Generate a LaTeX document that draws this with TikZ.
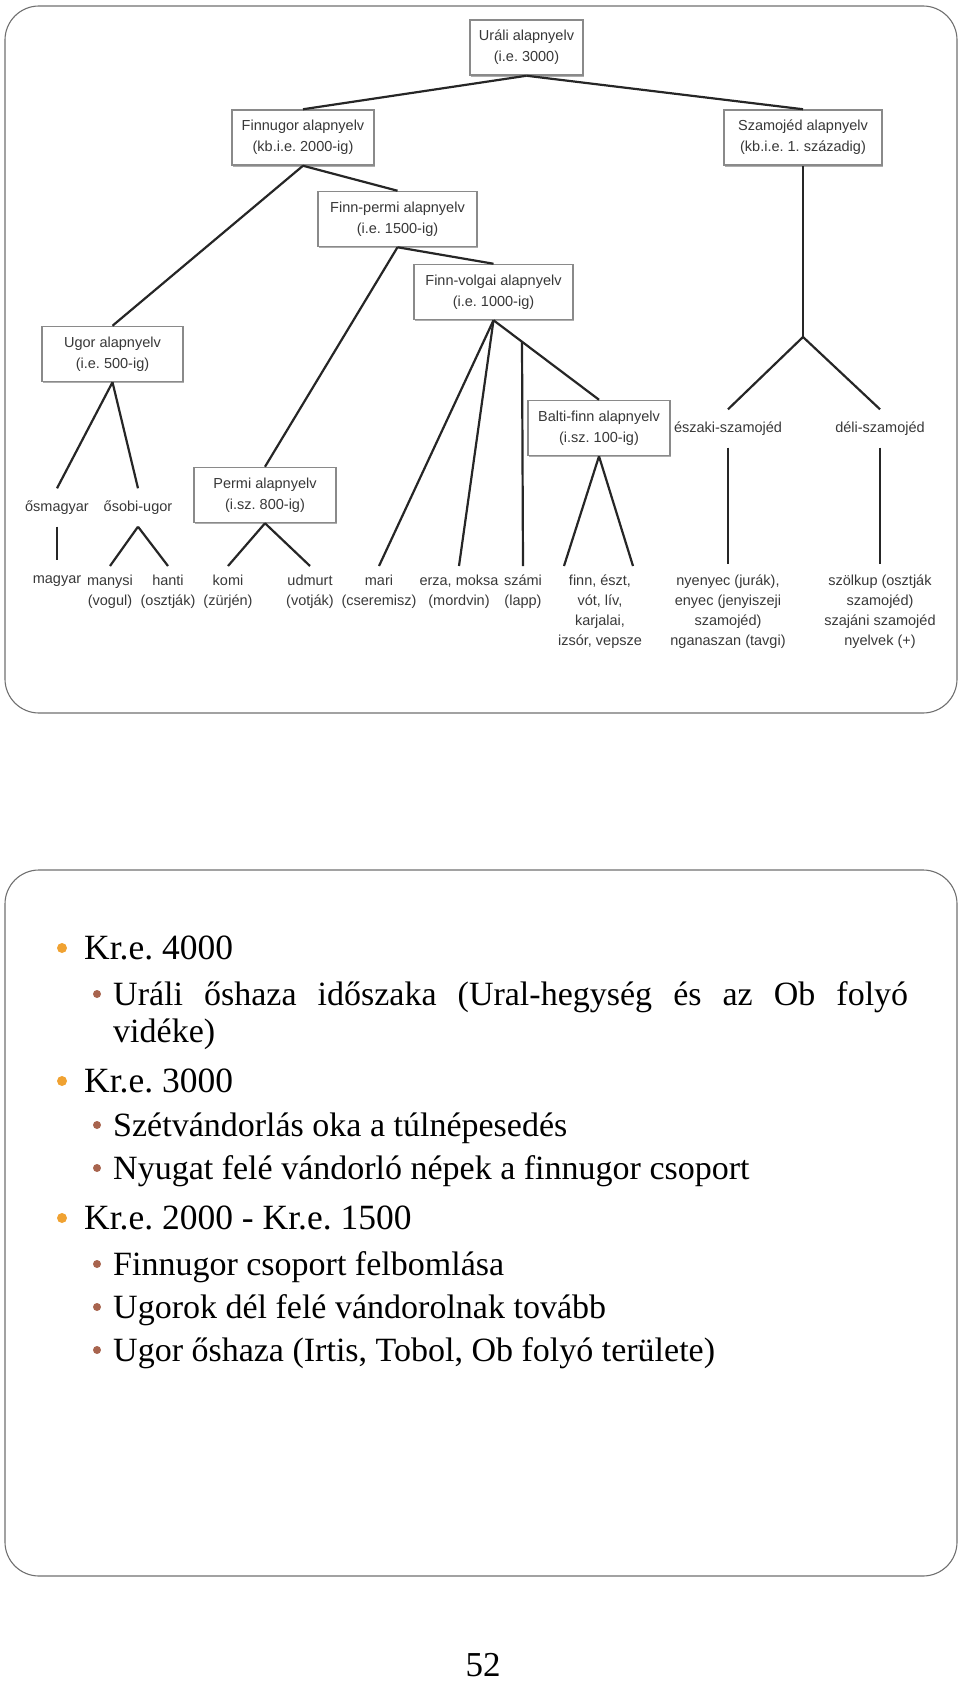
\documentclass[tikz,border=0pt]{standalone}
\usepackage{fontspec}
\setmainfont{Liberation Serif}
\newfontfamily\treefont{Liberation Sans}
\usepackage{xcolor}
\usepackage{tikz}
\usetikzlibrary{shadows}
\definecolor{treegray}{HTML}{383838}
\definecolor{boxgray}{HTML}{8A8A8A}
\definecolor{framegray}{HTML}{707070}
\definecolor{dotorange}{HTML}{F0A232}
\definecolor{dotbrown}{HTML}{A8644E}
\frenchspacing

\begin{document}
\begin{tikzpicture}[
    x=1pt, y=-1pt,
    langbox/.style={rectangle, draw=boxgray, line width=1.5pt, fill=white, minimum width=#1, minimum height=55pt, inner sep=0pt, align=center, text=treegray, font=\treefont\fontsize{14.5}{21}\selectfont, drop shadow={shadow xshift=0.8pt, shadow yshift=-1.6pt, fill=black!45, opacity=0.7}},
    langbox/.default=142pt,
    midlabel/.style={minimum height=38pt, inner sep=0pt, text=treegray, font=\treefont\fontsize{14.5}{21}\selectfont},
    leaf/.style={anchor=north, inner xsep=0pt, inner ysep=9pt, align=center, text=treegray, font=\treefont\fontsize{14.5}{19.8}\selectfont},
    branch/.style={line width=2.2pt, black!85},
    frame/.style={draw=framegray, line width=1.1pt, rounded corners=34pt},
    dotone/.style={circle, fill=dotorange, minimum size=10pt, inner sep=0pt},
    dottwo/.style={circle, fill=dotbrown, minimum size=8pt, inner sep=0pt},
    levelone/.style={anchor=base west, inner sep=0pt, font=\fontsize{35.5}{40}\selectfont},
    leveltwo/.style={anchor=base west, inner sep=0pt, font=\fontsize{34}{40}\selectfont}
]
\useasboundingbox (0,0) rectangle (960,1683);

\draw[frame] (5,6) rectangle (957,713);
\draw[frame] (5,870) rectangle (957,1576);

\node[langbox=113pt] (urali) at (526.5,47.5) {Uráli alapnyelv\\(i.e. 3000)};
\node[langbox] (finnugor) at (303,137.5) {Finnugor alapnyelv\\(kb.i.e. 2000-ig)};
\node[langbox=158pt] (szamojed) at (803,137.5) {Szamojéd alapnyelv\\(kb.i.e. 1. századig)};
\node[langbox=159pt] (finnpermi) at (397.5,219) {Finn-permi alapnyelv\\(i.e. 1500-ig)};
\node[langbox=159pt] (finnvolgai) at (493.5,292) {Finn-volgai alapnyelv\\(i.e. 1000-ig)};
\node[langbox=141pt] (ugor) at (112.5,354) {Ugor alapnyelv\\(i.e. 500-ig)};
\node[langbox] (permi) at (265,495) {Permi alapnyelv\\(i.sz. 800-ig)};
\node[langbox] (baltifinn) at (599,428) {Balti-finn alapnyelv\\(i.sz. 100-ig)};

\node[midlabel] (osmagyar) at (57,507.5) {ősmagyar};
\node[midlabel] (osobiugor) at (138,507.5) {ősobi-ugor};
\node[midlabel] (eszaki) at (728,428.5) {északi-szamojéd};
\node[midlabel] (deli) at (880,428.5) {déli-szamojéd};

\node[leaf] (magyar) at (57,566) {magyar};
\node[leaf] (manysi) at (110,566) {manysi\\(vogul)};
\node[leaf] (hanti) at (168,566) {hanti\\(osztják)};
\node[leaf] (komi) at (228,566) {komi\\(zürjén)};
\node[leaf] (udmurt) at (310,566) {udmurt\\(votják)};
\node[leaf] (mari) at (379,566) {mari\\(cseremisz)};
\node[leaf] (erza) at (459,566) {erza, moksa\\(mordvin)};
\node[leaf] (szami) at (523,566) {számi\\(lapp)};
\node[leaf] (baltinyelvek) at (600,566) {finn, észt,\\vót, lív,\\karjalai,\\izsór, vepsze};
\node[leaf] (eszakinyelvek) at (728,566) {nyenyec (jurák),\\enyec (jenyiszeji\\szamojéd)\\nganaszan (tavgi)};
\node[leaf] (delinyelvek) at (880,566) {szölkup (osztják\\szamojéd)\\szajáni szamojéd\\nyelvek (+)};

\coordinate (szamojedsplit) at (803,337);
\coordinate (szamisplit) at (522,342);

\draw[branch] (urali.south) -- (finnugor.north);
\draw[branch] (urali.south) -- (szamojed.north);
\draw[branch] (finnugor.south) -- (ugor.north);
\draw[branch] (finnugor.south) -- (finnpermi.north);
\draw[branch] (finnpermi.south) -- (permi.north);
\draw[branch] (finnpermi.south) -- (finnvolgai.north);
\draw[branch] (ugor.south) -- (osmagyar.north);
\draw[branch] (ugor.south) -- (osobiugor.north);
\draw[branch, shorten >=6pt] (osmagyar.south) -- (magyar.north);
\draw[branch] (osobiugor.south) -- (manysi.north);
\draw[branch] (osobiugor.south) -- (hanti.north);
\draw[branch] (permi.south) -- (komi.north);
\draw[branch] (permi.south) -- (udmurt.north);
\draw[branch] (finnvolgai.south) -- (mari.north);
\draw[branch] (finnvolgai.south) -- (erza.north);
\draw[branch] (finnvolgai.south) -- (baltifinn.north);
\draw[branch] (szamisplit) -- (szami.north);
\draw[branch] (baltifinn.south) -- ([xshift=-36pt]baltinyelvek.north);
\draw[branch] (baltifinn.south) -- ([xshift=33pt]baltinyelvek.north);
\draw[branch] (szamojed.south) -- (szamojedsplit);
\draw[branch] (szamojedsplit) -- (eszaki.north);
\draw[branch] (szamojedsplit) -- (deli.north);
\draw[branch, shorten >=2pt] (eszaki.south) -- (eszakinyelvek.north);
\draw[branch, shorten >=2pt] (deli.south) -- (delinyelvek.north);

\node[dotone] (dot4000) at (62,948) {};
\node[levelone] (kr4000) at (84,959) {Kr.e. 4000};
\node[dottwo] (dotos) at (97,994) {};
\node[leveltwo] (osidoszak) at (113,1005) {\makebox[795pt][s]{Uráli őshaza időszaka (Ural-hegység és az Ob folyó}};
\node[leveltwo] (videke) at (113,1042) {vidéke)};
\node[dotone] (dot3000) at (62,1081) {};
\node[levelone] (kr3000) at (84,1092) {Kr.e. 3000};
\node[dottwo] (dotszet) at (97,1125) {};
\node[leveltwo] (szetvandor) at (113,1136) {Szétvándorlás oka a túlnépesedés};
\node[dottwo] (dotnyugat) at (97,1168) {};
\node[leveltwo] (nyugat) at (113,1179) {Nyugat felé vándorló népek a finnugor csoport};
\node[dotone] (dot2000) at (62,1218) {};
\node[levelone] (kr2000) at (84,1229) {Kr.e. 2000 - Kr.e. 1500};
\node[dottwo] (dotfelbom) at (97,1264) {};
\node[leveltwo] (felbomlas) at (113,1275) {Finnugor csoport felbomlása};
\node[dottwo] (dotugorok) at (97,1307) {};
\node[leveltwo] (ugorok) at (113,1318) {Ugorok dél felé vándorolnak tovább};
\node[dottwo] (dotoshaza) at (97,1350) {};
\node[leveltwo] (ugoroshaza) at (113,1361) {Ugor őshaza (Irtis, Tobol, Ob folyó területe)};

\node[anchor=base, inner sep=0pt, font=\fontsize{35}{40}\selectfont] (pagenum) at (483,1676) {52};

\end{tikzpicture}
\end{document}
